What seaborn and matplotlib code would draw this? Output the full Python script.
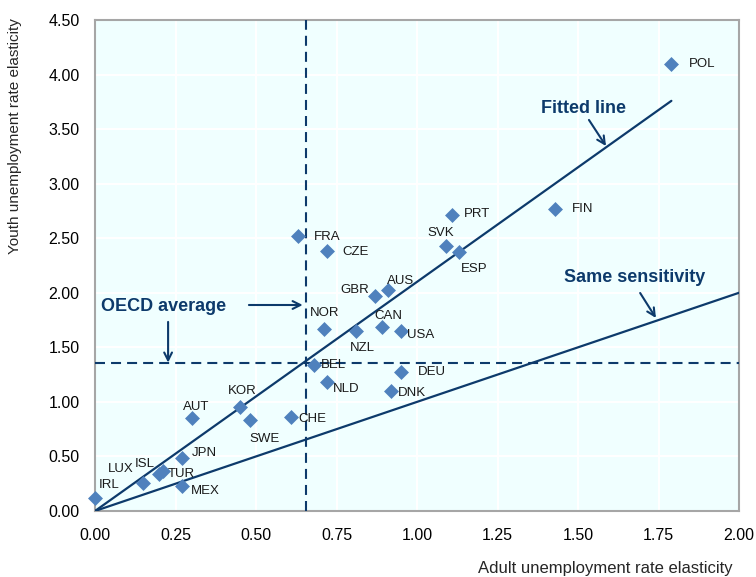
import numpy as np
import pandas as pd
import matplotlib
matplotlib.use("Agg")
import matplotlib.pyplot as plt
from matplotlib.ticker import FormatStrFormatter
import seaborn as sns

# Elasticities of unemployment rates to the output gap, by country
countries = ["IRL", "LUX", "ISL", "TUR", "JPN", "MEX", "AUT", "KOR", "SWE", "CHE",
             "FRA", "CZE", "PRT", "SVK", "ESP", "GBR", "AUS", "NOR", "NZL", "CAN",
             "USA", "BEL", "DEU", "NLD", "DNK", "POL", "FIN"]
adult = [0.00, 0.15, 0.20, 0.21, 0.27, 0.27, 0.30, 0.45, 0.48, 0.61,
         0.63, 0.72, 1.11, 1.09, 1.13, 0.87, 0.91, 0.71, 0.81, 0.89,
         0.95, 0.68, 0.95, 0.72, 0.92, 1.79, 1.43]
youth = [0.12, 0.26, 0.34, 0.37, 0.49, 0.23, 0.85, 0.95, 0.83, 0.86,
         2.52, 2.38, 2.71, 2.43, 2.37, 1.97, 2.03, 1.67, 1.65, 1.69,
         1.65, 1.34, 1.27, 1.18, 1.10, 4.10, 2.77]

# OECD averages and slope of the fitted line through the origin
oecd_adult = 0.655
oecd_youth = 1.36
fitted_slope = 2.10

# Label offsets in pixels (dx, dy, horizontal alignment)
label_pos = {
    "IRL": (4, 13, "left"), "LUX": (-10, 14, "right"), "ISL": (-5, 10, "right"),
    "TUR": (5, -3, "left"), "JPN": (10, 5, "left"), "MEX": (9, -5, "left"),
    "AUT": (5, 11, "center"), "KOR": (2, 16, "center"), "SWE": (15, -19, "center"),
    "CHE": (7, -2, "left"), "FRA": (16, -1, "left"), "CZE": (16, -1, "left"),
    "PRT": (11, 1, "left"), "SVK": (-5, 13, "center"), "ESP": (15, -17, "center"),
    "GBR": (-6, 6, "right"), "AUS": (13, 9, "center"), "NOR": (1, 16, "center"),
    "NZL": (7, -17, "center"), "CAN": (7, 11, "center"), "USA": (6, -4, "left"),
    "BEL": (7, 0, "left"), "DEU": (17, 0, "left"), "NLD": (6, -7, "left"),
    "DNK": (7, -2, "left"), "POL": (17, 0, "left"), "FIN": (16, 0, "left"),
}

df = pd.DataFrame({"country": countries, "adult": adult, "youth": youth})

sns.set_style("white")
plt.rcParams["font.family"] = ["Liberation Sans", "DejaVu Sans"]

navy = "#0D3A6B"
marker_blue = "#4F81BD"
frame_grey = "#A6A6A6"

fig = plt.figure(figsize=(7.56, 5.77), dpi=100)
ax = fig.add_axes([95 / 756, 1 - 511 / 577, 644 / 756, 491 / 577])
ax.set_facecolor("#F0FFFF")

ax.set_xlim(0, 2.0)
ax.set_ylim(0, 4.5)
ax.set_xticks(np.arange(0, 2.01, 0.25))
ax.set_yticks(np.arange(0, 4.51, 0.5))
ax.xaxis.set_major_formatter(FormatStrFormatter("%.2f"))
ax.yaxis.set_major_formatter(FormatStrFormatter("%.2f"))
ax.grid(True, color="white", linewidth=1.5)
ax.set_axisbelow(True)
for sp in ax.spines.values():
    sp.set_color(frame_grey)
    sp.set_linewidth(1.5)
ax.tick_params(axis="both", direction="in", length=4, width=1, color=frame_grey,
               labelsize=11.5, labelcolor="black")
ax.tick_params(axis="x", pad=12.5)
ax.tick_params(axis="y", pad=11)

# Reference lines: same sensitivity (45 degrees) and fitted line
ax.plot([0, 2.0], [0, 2.0], color=navy, lw=1.6, zorder=3)
fx = np.array([0, max(adult)])
ax.plot(fx, fitted_slope * fx, color=navy, lw=1.6, zorder=3)

# OECD average cross-hair
ax.axvline(oecd_adult, color=navy, lw=1.5, dashes=(4.8, 2.9), zorder=3)
ax.axhline(oecd_youth, color=navy, lw=1.5, dashes=(4.8, 2.9), zorder=3)

sns.scatterplot(data=df, x="adult", y="youth", marker="D", s=58,
                color=marker_blue, linewidth=0, ax=ax, zorder=4, clip_on=False)

for c, x, y in zip(countries, adult, youth):
    dx, dy, ha = label_pos[c]
    ax.annotate(c, (x, y), xytext=(dx * 0.72, dy * 0.72), textcoords="offset points",
                ha=ha, va="center", fontsize=9.5, color="#1A1A1A", zorder=5)

# Callouts
bold = dict(fontsize=13, fontweight="bold", color=navy, ha="center", va="center")
arrow = dict(arrowstyle="->", color=navy, lw=1.5, mutation_scale=14,
             shrinkA=0, shrinkB=0)
ax.text(1.516, 3.685, "Fitted line", **bold)
ax.annotate("", xy=(1.587, 3.345), xytext=(1.534, 3.584), arrowprops=arrow)
ax.text(1.676, 2.142, "Same sensitivity", **bold)
ax.annotate("", xy=(1.742, 1.769), xytext=(1.693, 1.998), arrowprops=arrow)
ax.text(0.213, 1.872, "OECD average", **bold)
ax.annotate("", xy=(0.227, oecd_youth), xytext=(0.227, 1.733), arrowprops=arrow)
ax.annotate("", xy=(oecd_adult - 0.01, 1.888), xytext=(0.478, 1.888), arrowprops=arrow)

ax.set_xlabel("Adult unemployment rate elasticity", fontsize=12, ha="right", va="center")
ax.xaxis.set_label_coords((733 - 95) / 644, (511 - 569) / 491)
ax.set_ylabel("Youth unemployment rate elasticity", fontsize=11, va="center")
ax.yaxis.set_label_coords((15 - 95) / 644, (511 - 136) / 491)

fig.savefig("out.png", dpi=100, facecolor="white")
